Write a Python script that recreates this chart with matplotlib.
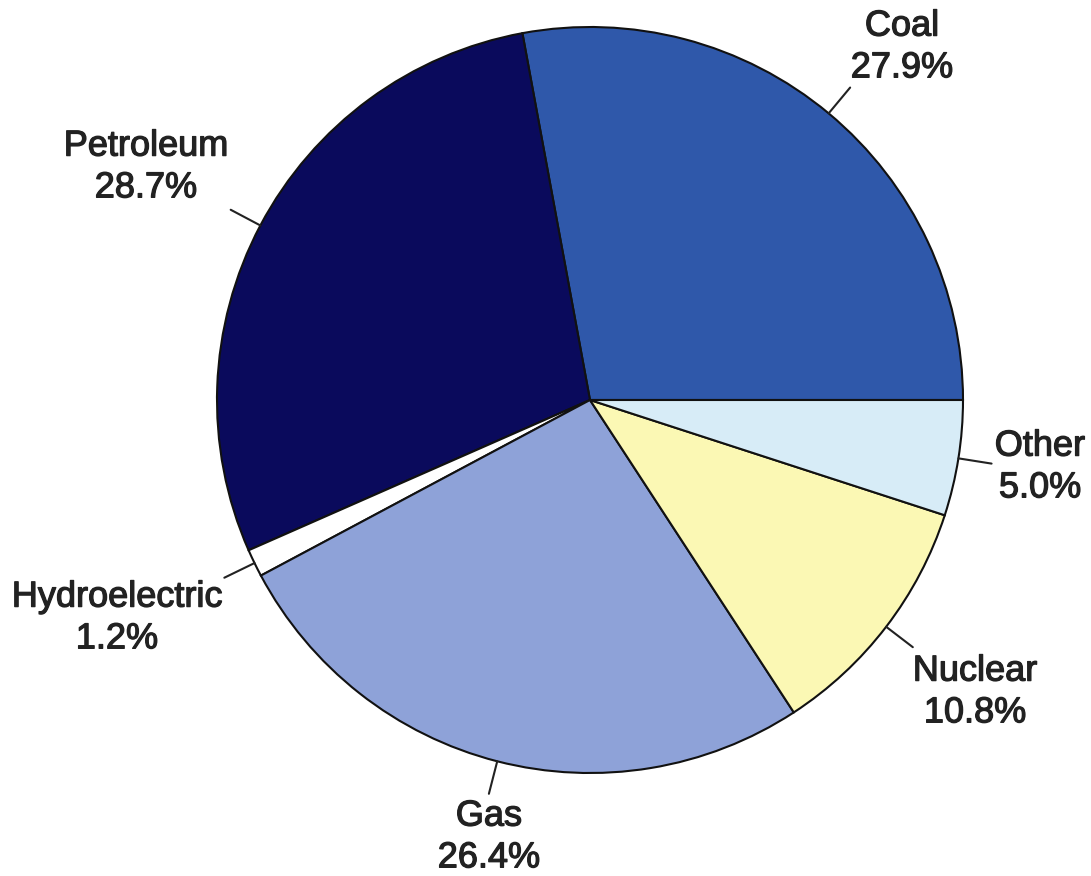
import numpy as np
import matplotlib
matplotlib.use("Agg")
import matplotlib.pyplot as plt
import matplotlib.patheffects as pe

# Energy sources and their shares (percent)
sources = ["Coal", "Petroleum", "Hydroelectric", "Gas", "Nuclear", "Other"]
shares = [27.9, 28.7, 1.2, 26.4, 10.8, 5.0]
colors = ["#2f58aa", "#0a0a5c", "#ffffff", "#8ea2d8", "#fbf8b4", "#d7ecf7"]

W, H = 1091, 876

# Label block centres (pixels from the top-left corner of the canvas)
label_xy = [(902, 47), (146, 167), (117, 618), (489, 837), (975, 692), (1040, 467)]

fig = plt.figure(figsize=(W / 100, H / 100), dpi=100)
ax = fig.add_axes([0, 0, 1, 1])

cx, cy, R = 590, H - 400, 373
wedges, _ = ax.pie(
    shares, colors=colors, startangle=0, counterclock=True,
    center=(cx, cy), radius=R,
    wedgeprops=dict(edgecolor="#111111", linewidth=1.5),
)
ax.set_xlim(0, W)
ax.set_ylim(0, H)
ax.set_aspect("equal")
ax.axis("off")

for w, name, pct, (lx, ly) in zip(wedges, sources, shares, label_xy):
    mid = np.deg2rad((w.theta1 + w.theta2) / 2)
    ux, uy = np.cos(mid), np.sin(mid)
    ax.plot([cx + R * ux, cx + 1.09 * R * ux], [cy + R * uy, cy + 1.09 * R * uy],
            color="#222222", lw=1.5, solid_capstyle="round")
    ax.text(lx, H - ly, f"{name}\n{pct:.1f}%",
            ha="center", va="center", fontsize=26, family="Liberation Sans",
            color="#222222", linespacing=1.25,
            path_effects=[pe.withStroke(linewidth=0.9, foreground="#222222")])

fig.savefig("out.png", dpi=100, facecolor="white")
